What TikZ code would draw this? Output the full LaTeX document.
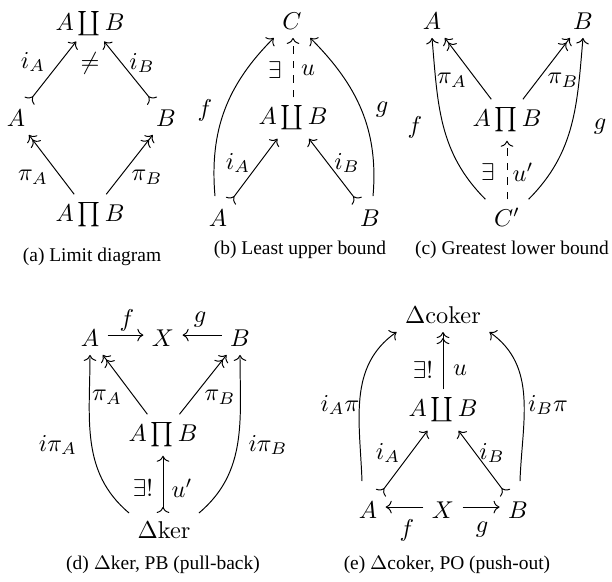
\documentclass[tikz,border=0pt]{standalone}
\usepackage[no-math]{fontspec}
\setmainfont{Liberation Serif}
\usetikzlibrary{arrows.meta}
\begin{document}
\begin{tikzpicture}[x=0.4115pt,y=-0.4115pt,
  >={Computer Modern Rightarrow},
  line width=0.4pt,
  ar/.style={->},
  mono/.style={>->},
  epi/.style={->>},
  lab/.style={inner sep=0pt},
  captxt/.style={inner sep=0pt,font=\rmfamily\fontsize{8}{9.6}\selectfont}]
\useasboundingbox (0,0) rectangle (612,582);
% ---------- (a)
\node[inner sep=2pt] (aTop) at (90,24) {$A\coprod B$};
\node (aA) at (16,118) {$A$};
\node (aB) at (166,118) {$B$};
\node (aBot) at (90,215) {$A\prod B$};
\node[lab] (aNe) at (90,63) {$\neq$};
\draw[mono] (aA) -- (aTop);
\draw[mono] (aB) -- (aTop);
\draw[epi] (aBot) -- (aA);
\draw[epi] (aBot) -- (aB);
\node[lab] (laiA) at (33,62) {$i_A$};
\node[lab] (laiB) at (142,63) {$i_B$};
\node[lab] (lapA) at (33,177) {$\pi_A$};
\node[lab] (lapB) at (147,177) {$\pi_B$};
\node[captxt] (capa) at (92,257) {(a) Limit diagram};
% ---------- (b)
\node (bC) at (292,21) {$C$};
\node (bCo) at (293,118) {$A\coprod B$};
\node (bA) at (218,218) {$A$};
\node (bB) at (370,218) {$B$};
\draw[ar,dashed] (bCo.north) -- (bCo.north |- bC.south);
\draw[ar] ([shift={(-3,-5)}]bA.north) to[out=95,in=225] (bC.south west);
\draw[ar] ([shift={(3,-5)}]bB.north) to[out=85,in=-45] (bC.south east);
\draw[mono] (bA) -- (bCo);
\draw[mono] (bB) -- (bCo);
\node[lab] (lbE) at (275,70) {$\exists$};
\node[lab] (lbu) at (308,70) {$u$};
\node[lab] (lbf) at (205,110) {$f$};
\node[lab] (lbg) at (382,110) {$g$};
\node[lab] (lbiA) at (238,163) {$i_A$};
\node[lab] (lbiB) at (347,163) {$i_B$};
\node[captxt] (capb) at (300,250) {(b) Least upper bound};
% ---------- (c)
\node (cA) at (432,21) {$A$};
\node (cB) at (583,21) {$B$};
\node (cP) at (507,120) {$A\prod B$};
\node (cC) at (507,217) {$C'$};
\draw[ar,dashed] (cC.north) -- (cC.north |- cP.south);
\draw[ar] (cC.north west) to[out=135,in=-85] (cA.south);
\draw[ar] (cC.north east) to[out=45,in=-95] (cB.south);
\draw[epi] (cP) -- (cA);
\draw[epi] (cP) -- (cB);
\node[lab] (lcE) at (488,172) {$\exists$};
\node[lab] (lcu) at (523,172) {$u'$};
\node[lab] (lcf) at (415,127) {$f$};
\node[lab] (lcg) at (600,127) {$g$};
\node[lab] (lcpA) at (452,80) {$\pi_A$};
\node[lab] (lcpB) at (563,80) {$\pi_B$};
\node[captxt] (capc) at (512,250) {(c) Greatest lower bound};
% ---------- (d)
\node (dA) at (90,338) {$A$};
\node (dX) at (163,338) {$X$};
\node (dB) at (240,338) {$B$};
\node (dP) at (163,435) {$A\prod B$};
\node (dK) at (164,530) {$\Delta\mathrm{ker}$};
\draw[ar] ([yshift=1.2pt]dA.east) -- ([yshift=1.2pt]dX.west);
\draw[ar] ([yshift=1.2pt]dB.west) -- ([yshift=1.2pt]dX.east);
\draw[epi] (dP) -- (dA);
\draw[epi] (dP) -- (dB);
\draw[mono] (dK.north -| dP.south) -- (dP.south);
\draw[ar] (dK.north west) to[out=140,in=-90] (dA.south);
\draw[ar] (dK.north east) to[out=40,in=-90] (dB.south);
\node[lab] (ldf) at (127,320) {$f$};
\node[lab] (ldg) at (200,320) {$g$};
\node[lab] (ldpA) at (107,397) {$\pi_A$};
\node[lab] (ldpB) at (220,397) {$\pi_B$};
\node[lab] (ldE) at (143,488) {$\exists!$};
\node[lab] (ldu) at (182,488) {$u'$};
\node[lab] (ldiA) at (58,445) {$i\pi_A$};
\node[lab] (ldiB) at (268,445) {$i\pi_B$};
\node[captxt] (capd) at (163,565) {(d) $\Delta$ker, PB (pull-back)};
% ---------- (e)
\node (eK) at (443,315) {$\Delta\mathrm{coker}$};
\node (eCo) at (443,410) {$A\coprod B$};
\node (eA) at (368,510) {$A$};
\node (eX) at (443,510) {$X$};
\node (eB) at (518,510) {$B$};
\draw[ar] ([yshift=1.2pt]eX.west) -- ([yshift=1.2pt]eA.east);
\draw[ar] ([yshift=1.2pt]eX.east) -- ([yshift=1.2pt]eB.west);
\draw[epi] (eCo.north) -- (eCo.north |- eK.south);
\draw[mono] (eA) -- (eCo);
\draw[mono] (eB) -- (eCo);
\draw[ar] ([shift={(-6,-12)}]eA.north) to[out=92,in=215] (eK.south west);
\draw[ar] ([shift={(2,-12)}]eB.north) to[out=88,in=-35] (eK.south east);
\node[lab] (lef) at (407,530) {$f$};
\node[lab] (leg) at (482,530) {$g$};
\node[lab] (leE) at (423,370) {$\exists!$};
\node[lab] (leu) at (460,370) {$u$};
\node[lab] (leiA) at (388,453) {$i_A$};
\node[lab] (leiB) at (492,453) {$i_B$};
\node[lab] (leAp) at (340,405) {$i_A\pi$};
\node[lab] (leBp) at (548,405) {$i_B\pi$};
\node[captxt] (cape) at (447,565) {(e) $\Delta$coker, PO (push-out)};
\end{tikzpicture}
\end{document}
